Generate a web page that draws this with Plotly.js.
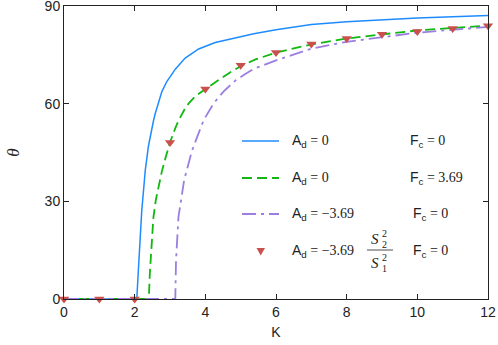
<!DOCTYPE html>
<html>
<head>
<meta charset="utf-8">
<script src="https://cdn.plot.ly/plotly-3.0.1.min.js"></script>
<style>
  body { margin: 0; background: #fff; }
  #chart { width: 498px; height: 345px; }
</style>
</head>
<body>
<div id="chart"></div>
<script>
// values
var kBlue = [0, 2.06, 2.09, 2.13, 2.2, 2.28, 2.3, 2.39, 2.47, 2.53, 2.58, 2.72, 2.77, 2.91, 3.1, 3.15, 3.43, 3.81, 4.28, 4.85, 5.37, 6, 7, 8, 8.68, 10, 12];
var thBlue = [0, 0, 6, 15, 27, 37, 39.5, 47, 51.7, 54.6, 56.9, 62.2, 63.7, 66.8, 69.8, 70.6, 74.0, 76.8, 78.8, 80.3, 81.5, 82.7, 84.3, 85.2, 85.6, 86.3, 87.1];

var kGreen = [0, 2.4, 2.43, 2.47, 2.53, 2.6, 2.68, 2.77, 2.87, 3.0, 3.15, 3.24, 3.43, 3.53, 3.72, 4.0, 4.38, 4.76, 5.0, 5.42, 6, 7, 8, 8.54, 10, 12];
var thGreen = [0, 0, 8, 16, 25, 30.5, 35, 39.2, 43.2, 48.1, 52.5, 54.8, 58.6, 60.1, 62.3, 64.5, 67.3, 70.0, 71.5, 73.6, 75.7, 78.2, 80.0, 80.7, 82.5, 84.0];

var kPurple = [0, 3.15, 3.17, 3.24, 3.4, 3.62, 3.91, 4.0, 4.19, 4.28, 4.52, 4.76, 4.85, 5.13, 5.37, 6, 7, 8, 8.6, 10, 12];
var thPurple = [0, 0, 11.9, 25.2, 36.5, 45.5, 53.8, 55.8, 59.3, 60.7, 63.8, 66.3, 67.1, 69.1, 70.7, 73.3, 76.9, 79.0, 79.9, 81.8, 83.6];

var kMark = [0, 1, 2, 3, 4, 5, 6, 7, 8, 9, 10, 11, 12];
var thMark = [0, 0, 0, 48.1, 64.5, 71.8, 75.7, 78.3, 80.0, 81.3, 82.2, 83.1, 83.9];

var blue = "#1e8cff", green = "#10b810", purple = "#9b7ee0", red = "#c9504c";
var serif = "Liberation Serif, DejaVu Serif, serif";
var sans = "Liberation Sans, Arial, sans-serif";

// plot box in pixels (for placing the hand made legend)
var L = 64, R = 488, T = 6, B = 299;
function px(x) { return (x - L) / (R - L); }
function py(y) { return (B - y) / (B - T); }

var data = [
  {x: kBlue, y: thBlue, mode: "lines", line: {color: blue, width: 1.5}, showlegend: false},
  {x: kGreen, y: thGreen, mode: "lines", line: {color: green, width: 1.8, dash: "10px,5px"}, showlegend: false},
  {x: kPurple, y: thPurple, mode: "lines", line: {color: purple, width: 1.8, dash: "14px,5px,3px,5px"}, showlegend: false},
  {x: kMark, y: thMark, mode: "markers", marker: {symbol: "triangle-down", size: 9, color: red},
   cliponaxis: false, showlegend: false}
];

function eq(lhs, rhs) {
  return lhs + "<span style='font-family:" + serif + "'> = " + rhs + "</span>";
}
var Ad = "A<sub>d</sub>", Fc = "F<sub>c</sub>";

function txt(x, y, t, size, font) {
  return {xref: "paper", yref: "paper", x: px(x), y: py(y), text: t, showarrow: false,
          xanchor: "left", yanchor: "middle", font: {family: font || sans, size: size || 14, color: "#222"}};
}

var annotations = [
  txt(290, 141, eq(Ad, "0")),
  txt(408, 141, eq(Fc, "0")),
  txt(290, 178, eq(Ad, "0")),
  txt(408, 178, eq(Fc, "3.69")),
  txt(290, 214, eq(Ad, "\u22123.69")),
  txt(411, 214, eq(Fc, "0")),
  txt(290, 251, eq(Ad, "\u22123.69")),
  txt(411, 251, eq(Fc, "0")),
  // fraction S2^2 / S1^2
  txt(369, 239, "<i>S</i>", 15, serif),
  txt(380, 233, "2", 10, serif),
  txt(380, 244, "2", 10, serif),
  txt(369, 263, "<i>S</i>", 15, serif),
  txt(380, 257, "2", 10, serif),
  txt(380, 268, "1", 10, serif)
];

function seg(x0, x1, y, color, dash, w) {
  return {type: "line", xref: "paper", yref: "paper", x0: px(x0), x1: px(x1), y0: py(y), y1: py(y),
          line: {color: color, width: w, dash: dash}};
}
var shapes = [
  seg(242, 279, 141, blue, "solid", 1.5),
  seg(242, 279, 178, green, "10px,5px", 1.8),
  seg(242, 279, 214, purple, "14px,5px,3px,5px", 1.8),
  seg(367, 393, 250, "#222", "solid", 0.8),
  {type: "path", xref: "paper", yref: "paper",
   path: "M" + px(256.5) + "," + py(248) + " L" + px(265) + "," + py(248) + " L" + px(260.7) + "," + py(255.5) + " Z",
   fillcolor: red, line: {width: 0}}
];

var axisCommon = {
  showgrid: false, zeroline: false, showline: true, mirror: "ticks",
  linecolor: "#222", linewidth: 1, ticks: "inside", ticklen: 5, tickcolor: "#222",
  ticklabeloverflow: "allow",
  tickfont: {family: sans, size: 14, color: "#222"}
};

var layout = {
  width: 498, height: 345,
  margin: {l: L, r: 498 - R, t: T, b: 345 - B},
  paper_bgcolor: "#fff", plot_bgcolor: "#fff",
  xaxis: Object.assign({}, axisCommon, {
    range: [0, 12], tickvals: [0, 2, 4, 6, 8, 10, 12],
    title: {text: "K", font: {family: sans, size: 14, color: "#222"}, standoff: 8}
  }),
  yaxis: Object.assign({}, axisCommon, {
    range: [0, 90], tickvals: [0, 30, 60, 90],
    title: {text: "<i>θ</i>", font: {family: serif, size: 17, color: "#222"}, standoff: 20}
  }),
  annotations: annotations,
  shapes: shapes
};

Plotly.newPlot("chart", data, layout, {displayModeBar: false, staticPlot: true});
</script>
</body>
</html>
